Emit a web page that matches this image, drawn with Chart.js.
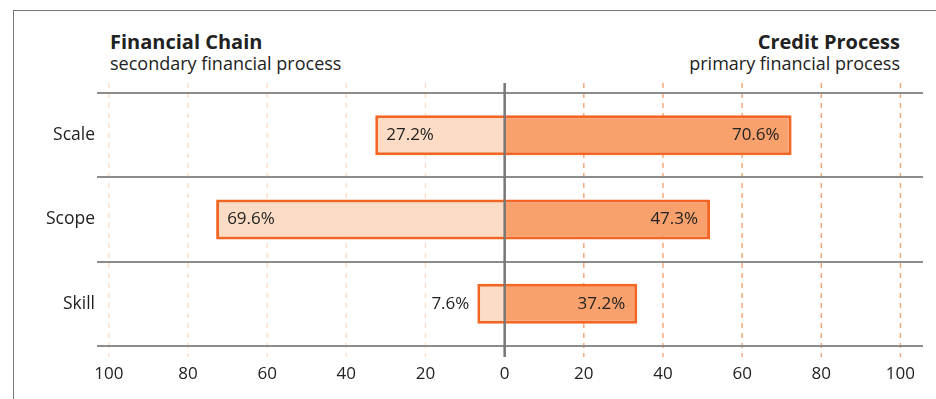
<!DOCTYPE html>
<html>
<head>
<meta charset="utf-8">
<script src="https://cdn.jsdelivr.net/npm/chart.js@4"></script>
<style>
  body { margin: 0; background: #fff; }
  #wrap { position: relative; width: 936px; height: 399px; overflow: hidden; font-family: "Open Sans", sans-serif; color: #222; }
  #frame { position: absolute; left: 13px; top: 10px; width: 940px; height: 400px; border-left: 1px solid #777; border-top: 1px solid #777; }
  .line { position: absolute; white-space: nowrap; line-height: 1; }
  .title { font-size: 20px; font-weight: 700; top: 32px; }
  .sub { font-size: 18px; top: 54px; }
  .left { left: 110px; }
  .right { right: 36px; text-align: right; }
  canvas { position: absolute; left: 0; top: 0; }
</style>
</head>
<body>
<div id="wrap">
  <div id="frame"></div>
  <div class="line title left">Financial Chain</div>
  <div class="line sub left">secondary financial process</div>
  <div class="line title right">Credit Process</div>
  <div class="line sub right">primary financial process</div>
  <canvas id="chart" width="936" height="399"></canvas>
</div>
<script>
// Data
const categories = ["Scale", "Scope", "Skill"];
// bar lengths as drawn in the picture
const financialChain = [32.7, 72.9, 6.9];
const creditProcess = [72.5, 51.9, 33.5];
// printed values
const financialLabels = ["27.2%", "69.6%", "7.6%"];
const creditLabels = ["70.6%", "47.3%", "37.2%"];
const tickValues = [-100, -80, -60, -40, -20, 0, 20, 40, 60, 80, 100];

const FONT = "Open Sans";

// dashed grid behind bars, zero line and value labels on top
const divergingPlugin = {
  id: "diverging",
  beforeDraw(chart) {
    const { ctx, chartArea, scales } = chart;
    const x = scales.x;
    ctx.save();
    ctx.lineWidth = 1.4;
    ctx.setLineDash([5, 5]);
    tickValues.forEach((v) => {
      if (v === 0) return;
      const px = x.getPixelForValue(v);
      ctx.strokeStyle = v < 0 ? "#fddcc6" : "#f6a372";
      ctx.beginPath();
      ctx.moveTo(px, chartArea.top - 10);
      ctx.lineTo(px, chartArea.bottom + 11);
      ctx.stroke();
    });
    ctx.restore();
  },
  afterDatasetsDraw(chart) {
    const { ctx, chartArea, scales } = chart;
    const zero = scales.x.getPixelForValue(0);
    ctx.save();
    ctx.strokeStyle = "#777";
    ctx.lineWidth = 2.5;
    ctx.beginPath();
    ctx.moveTo(zero, chartArea.top - 10);
    ctx.lineTo(zero, chartArea.bottom + 11);
    ctx.stroke();

    ctx.font = "17px '" + FONT + "'";
    ctx.fillStyle = "#222";
    ctx.textBaseline = "middle";
    [financialLabels, creditLabels].forEach((labels, d) => {
      const meta = chart.getDatasetMeta(d);
      meta.data.forEach((bar, i) => {
        const text = labels[i];
        const tw = ctx.measureText(text).width;
        const len = Math.abs(bar.base - bar.x);
        const inside = len > tw + 22;
        if (d === 0) {
          ctx.textAlign = inside ? "left" : "right";
          ctx.fillText(text, inside ? bar.x + 11 : bar.x - 8, bar.y);
        } else {
          ctx.textAlign = inside ? "right" : "left";
          ctx.fillText(text, inside ? bar.x - 12 : bar.x + 8, bar.y);
        }
      });
    });
    ctx.restore();
  },
};

const ctx = document.getElementById("chart").getContext("2d");
const chart = new Chart(ctx, {
  type: "bar",
  data: {
    labels: categories,
    datasets: [
      {
        label: "Financial Chain",
        data: financialChain.map((v) => -v),
        backgroundColor: "#fcdcc5",
        borderColor: "#f26522",
        borderWidth: 3,
        barPercentage: 0.475,
        categoryPercentage: 1,
      },
      {
        label: "Credit Process",
        data: creditProcess,
        backgroundColor: "#f9a16c",
        borderColor: "#f26522",
        borderWidth: 3,
        barPercentage: 0.475,
        categoryPercentage: 1,
      },
    ],
  },
  options: {
    indexAxis: "y",
    responsive: false,
    animation: false,
    layout: { padding: { top: 93, right: 13, bottom: 13, left: 0 } },
    plugins: {
      legend: { display: false },
      tooltip: { enabled: false },
    },
    scales: {
      x: {
        type: "linear",
        stacked: true,
        min: -103,
        max: 105.7,
        afterBuildTicks: (s) => {
          s.ticks = tickValues.map((v) => ({ value: v }));
        },
        afterFit: (s) => {
          s.height = 40;
        },
        grid: { display: false, drawTicks: false },
        border: { display: false },
        ticks: {
          callback: (v) => Math.abs(v),
          font: { family: FONT, size: 17 },
          color: "#222",
          padding: 18,
          maxRotation: 0,
        },
      },
      y: {
        stacked: true,
        afterFit: (s) => {
          s.width = 97;
        },
        grid: { offset: true, color: "#8c8c8c", lineWidth: 2, drawTicks: false },
        border: { display: false },
        ticks: {
          font: { family: FONT, size: 17.5 },
          color: "#222",
          padding: 2,
        },
      },
    },
  },
  plugins: [divergingPlugin],
});
</script>
</body>
</html>
